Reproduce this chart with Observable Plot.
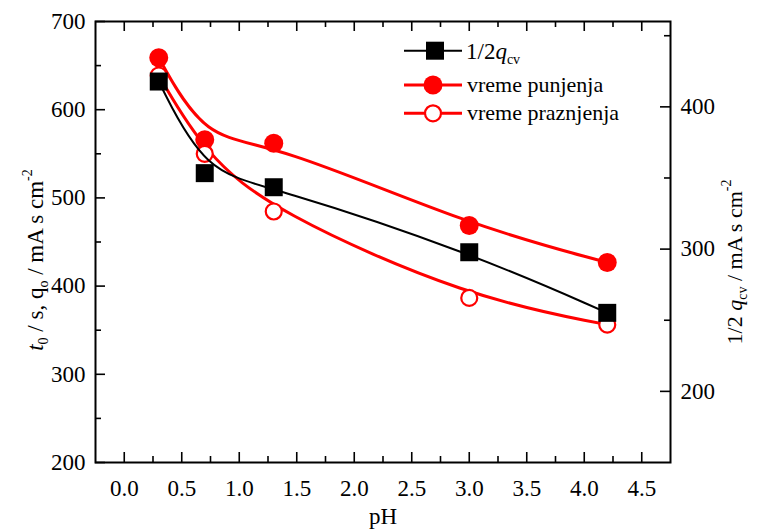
<!DOCTYPE html>
<html><head><meta charset="utf-8">
<script src="https://cdn.jsdelivr.net/npm/d3@7"></script>
<script src="https://cdn.jsdelivr.net/npm/@observablehq/plot@0.6"></script>
<style>body{margin:0;background:#fff}#chart{width:760px;height:531px}</style>
</head><body><div id="chart"></div>
<script>
// ---- data ----
const pH = [0.3, 0.7, 1.3, 3.0, 4.2];
const qcvHalf = [417.8, 353.4, 343.5, 297.8, 255.2];      // right axis (1/2 q_cv)
const vremePunjenja = [658.8, 565.9, 562.0, 468.7, 426.8];   // left axis
const vremePraznjenja = [638.8, 550.0, 484.6, 386.6, 356.3]; // left axis

const xMajor = [0, 0.5, 1, 1.5, 2, 2.5, 3, 3.5, 4, 4.5];
const xMinor = [0.25, 0.75, 1.25, 1.75, 2.25, 2.75, 3.25, 3.75, 4.25];
const yLeftMajor = [200, 300, 400, 500, 600, 700];
const yLeftMinor = [250, 350, 450, 550, 650];
const yRightMajor = [200, 300, 400];
const yRightMinor = [250, 350, 450];
const xDomain = [-0.25, 4.75];
const leftDomain = [200, 700];
const rightDomain = [150, 460];

const legendLabels = ["1/2", "vreme punjenja", "vreme praznjenja"];

// ---- layout ----
const FONT = "'Liberation Serif', 'Times New Roman', serif";
const W = 760, H = 531;
const mL = 95, mR = 90, mT = 21, mB = 69;
const pxX = (W - mL - mR) / (xDomain[1] - xDomain[0]);
const pxY = (H - mT - mB) / (leftDomain[1] - leftDomain[0]);
const toLeft = r => leftDomain[0] + (r - rightDomain[0]) * (leftDomain[1] - leftDomain[0]) / (rightDomain[1] - rightDomain[0]);
const fromLeft = l => rightDomain[0] + (l - leftDomain[0]) * (rightDomain[1] - rightDomain[0]) / (leftDomain[1] - leftDomain[0]);

const majorLen = 10, minorLen = 6;
const black = pH.map((x, i) => ({x, y: toLeft(qcvHalf[i])}));
const filled = pH.map((x, i) => ({x, y: vremePunjenja[i]}));
const open = pH.map((x, i) => ({x, y: vremePraznjenja[i]}));

function xTicks(vals, len) {
  return [
    Plot.ruleX(vals, {x: d => d, y1: leftDomain[0], y2: leftDomain[0] + len / pxY, stroke: "black", strokeWidth: 1.6}),
    Plot.ruleX(vals, {x: d => d, y1: leftDomain[1], y2: leftDomain[1] - len / pxY, stroke: "black", strokeWidth: 1.6})
  ];
}
function yTicks(vals, len, side) {
  const x1 = side === "left" ? xDomain[0] : xDomain[1];
  const x2 = side === "left" ? xDomain[0] + len / pxX : xDomain[1] - len / pxX;
  return Plot.ruleY(vals, {y: d => d, x1, x2, stroke: "black", strokeWidth: 1.6});
}
const txt = {fontFamily: FONT, fontSize: 23, fill: "black"};

const chart = Plot.plot({
  width: W, height: H,
  marginLeft: mL, marginRight: mR, marginTop: mT, marginBottom: mB,
  style: {fontFamily: FONT, fontSize: "23px", background: "#fff"},
  x: {domain: xDomain},
  y: {domain: leftDomain},
  marks: [
    ...xTicks(xMajor, majorLen),
    ...xTicks(xMinor, minorLen),
    yTicks(yLeftMajor, majorLen, "left"),
    yTicks(yLeftMinor, minorLen, "left"),
    yTicks(yRightMajor.map(toLeft), majorLen, "right"),
    yTicks(yRightMinor.map(toLeft), minorLen, "right"),
    Plot.axisX(xMajor, {tickSize: 0, tickPadding: 17, tickFormat: d3.format(".1f"), label: null, ...txt}),
    Plot.axisY(yLeftMajor, {anchor: "left", tickSize: 0, tickPadding: 10, label: null, ...txt}),
    Plot.axisY(yRightMajor.map(toLeft), {anchor: "right", tickSize: 0, tickPadding: 10, tickFormat: d => String(Math.round(fromLeft(d))), label: null, ...txt}),
    Plot.line(filled, {x: "x", y: "y", curve: "basis", stroke: "#ff0000", strokeWidth: 3}),
    Plot.dot(filled, {x: "x", y: "y", r: 9.5, fill: "#ff0000", stroke: "none"}),
    Plot.line(open, {x: "x", y: "y", curve: "basis", stroke: "#ff0000", strokeWidth: 3}),
    Plot.dot(open, {x: "x", y: "y", r: 8, fill: "white", stroke: "#ff0000", strokeWidth: 2.2}),
    Plot.line(black, {x: "x", y: "y", curve: "basis", stroke: "black", strokeWidth: 2}),
    Plot.dot(black, {x: "x", y: "y", symbol: "square", r: 10.15, fill: "black", stroke: "none"}),
    Plot.frame({stroke: "black", strokeWidth: 2})
  ]
});
document.getElementById("chart").appendChild(chart);

// ---- axis titles & legend ----
const svg = d3.select(chart);
const g = svg.append("g").attr("font-family", FONT).attr("font-size", 22).attr("fill", "black").attr("text-anchor", "start");

g.append("text").attr("x", 383).attr("y", 524).attr("text-anchor", "middle").attr("font-size", 23).text("pH");

function addParts(t, parts) {
  parts.forEach(p => {
    const s = t.append("tspan").text(p.t);
    if (p.i) s.attr("font-style", "italic");
    if (p.sub) s.attr("font-size", 14).attr("dy", 5);
    if (p.sup) s.attr("font-size", 14).attr("dy", -11);
    if (p.back) s.attr("dy", p.back);
  });
}
const lt = g.append("text").attr("transform", "translate(43,260) rotate(-90)").attr("text-anchor", "middle").attr("font-size", 23);
addParts(lt, [{t: "t", i: true}, {t: "0", sub: true}, {t: " / s, q", back: -5}, {t: "o", sub: true}, {t: " / mA s cm", back: -5}, {t: "-2", sup: true}]);

const rt = g.append("text").attr("transform", "translate(742,262) rotate(-90)").attr("text-anchor", "middle");
addParts(rt, [{t: "1/2 "}, {t: "q", i: true}, {t: "cv", sub: true}, {t: " / mA s cm", back: -5}, {t: "-2", sup: true}]);

// legend
const lg = g.append("g").attr("text-anchor", "start");
const rows = [50.7, 85, 113.3];
lg.append("line").attr("x1", 404).attr("x2", 462).attr("y1", rows[0]).attr("y2", rows[0]).attr("stroke", "black").attr("stroke-width", 2);
lg.append("rect").attr("x", 426).attr("y", rows[0] - 9).attr("width", 18).attr("height", 18).attr("fill", "black");
const t0 = lg.append("text").attr("x", 466).attr("y", rows[0] + 8).attr("font-size", 23);
addParts(t0, [{t: legendLabels[0]}, {t: "q", i: true}, {t: "cv", sub: true}]);

lg.append("line").attr("x1", 404).attr("x2", 462).attr("y1", rows[1]).attr("y2", rows[1]).attr("stroke", "#ff0000").attr("stroke-width", 3);
lg.append("circle").attr("cx", 433).attr("cy", rows[1]).attr("r", 9.5).attr("fill", "#ff0000");
lg.append("text").attr("x", 467).attr("y", rows[1] + 7).text(legendLabels[1]);

lg.append("line").attr("x1", 404).attr("x2", 462).attr("y1", rows[2]).attr("y2", rows[2]).attr("stroke", "#ff0000").attr("stroke-width", 3);
lg.append("circle").attr("cx", 433).attr("cy", rows[2]).attr("r", 8).attr("fill", "white").attr("stroke", "#ff0000").attr("stroke-width", 2.2);
lg.append("text").attr("x", 467).attr("y", rows[2] + 7).text(legendLabels[2]);
</script>
</body></html>
